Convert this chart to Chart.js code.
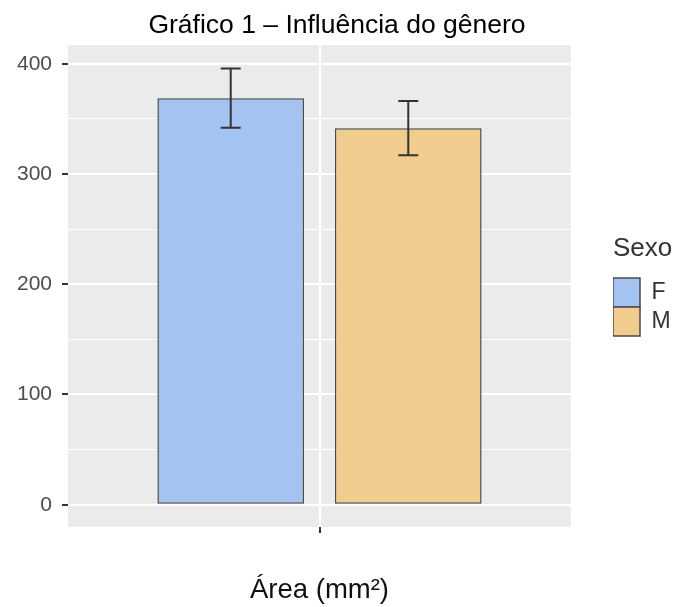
<!DOCTYPE html>
<html>
<head>
<meta charset="utf-8">
<script src="https://cdn.jsdelivr.net/npm/chart.js@4.4.1/dist/chart.umd.min.js"></script>
<style>
  html, body { margin: 0; padding: 0; background: #ffffff; }
  #wrap { width: 681px; height: 607px; position: relative; }
</style>
</head>
<body>
<div id="wrap"><canvas id="chart"></canvas></div>
<script>
// Mean area per sex with the half-width of its error bar
const groups = ['F', 'M'];
const areaMeans = [368.8, 341.6];
const areaErrors = [26.9, 24.7];
const xCategories = [''];
const yMajorTicks = [0, 100, 200, 300, 400];
const yMinorTicks = [50, 150, 250, 350];

const groupFills = ['#a5c3f1', '#f0cd8e'];
const titleText = 'Gráfico 1 – Influência do gênero';
const xTitle = 'Área (mm²)';
const legendTitle = 'Sexo';

Chart.defaults.font.family = '"Liberation Sans", Arial, Helvetica, sans-serif';

// grey panel behind the plotting area
const panelBackground = {
  id: 'panelBackground',
  beforeDraw(chart) {
    const { ctx, chartArea: a } = chart;
    ctx.save();
    ctx.fillStyle = '#ebebeb';
    ctx.fillRect(a.left, a.top, a.right - a.left, a.bottom - a.top);
    ctx.restore();
  }
};

// mean ± error whiskers drawn on top of each bar
const errorBars = {
  id: 'errorBars',
  afterDatasetsDraw(chart) {
    const { ctx } = chart;
    const yScale = chart.scales.y;
    ctx.save();
    ctx.strokeStyle = '#333333';
    ctx.lineWidth = 2;
    chart.data.datasets.forEach((ds, i) => {
      const meta = chart.getDatasetMeta(i);
      meta.data.forEach((bar, j) => {
        const m = ds.data[j];
        const e = ds.errors[j];
        const yLo = yScale.getPixelForValue(m - e);
        const yHi = yScale.getPixelForValue(m + e);
        const half = 10;
        ctx.beginPath();
        ctx.moveTo(bar.x, yLo); ctx.lineTo(bar.x, yHi);
        ctx.moveTo(bar.x - half, yLo); ctx.lineTo(bar.x + half, yLo);
        ctx.moveTo(bar.x - half, yHi); ctx.lineTo(bar.x + half, yHi);
        ctx.stroke();
      });
    });
    ctx.restore();
  }
};

const datasets = groups.map((g, i) => ({
  label: g,
  data: [areaMeans[i]],
  errors: [areaErrors[i]],
  backgroundColor: groupFills[i],
  borderColor: '#4a4a4a',
  borderWidth: 1.5,
  borderSkipped: false,
  barPercentage: 0.826,
  categoryPercentage: 0.706
}));

new Chart(document.getElementById('chart'), {
  type: 'bar',
  data: { labels: xCategories, datasets },
  plugins: [panelBackground, errorBars],
  options: {
    responsive: true,
    maintainAspectRatio: false,
    devicePixelRatio: 1,
    animation: false,
    events: [],
    layout: { padding: { left: 0, right: 7, top: 0, bottom: 0 } },
    plugins: {
      title: {
        display: true,
        text: titleText,
        color: '#000000',
        font: { size: 26.5, weight: 'normal' },
        padding: { top: 9.8, bottom: 3.4 }
      },
      legend: {
        position: 'right',
        fullSize: false,
        align: 'center',
        maxWidth: 61,
        title: {
          display: true,
          text: legendTitle,
          position: 'start',
          color: '#333333',
          font: { size: 26 },
          padding: { top: 0, bottom: 10.8 }
        },
        labels: {
          boxWidth: 27,
          boxHeight: 29,
          padding: 0,
          color: '#333333',
          font: { size: 23 }
        }
      },
      tooltip: { enabled: false }
    },
    scales: {
      x: {
        type: 'category',
        offset: true,
        grid: {
          offset: false,
          color: '#ffffff',
          lineWidth: 2,
          drawTicks: true,
          tickColor: '#333333',
          tickWidth: 2,
          tickLength: 6
        },
        border: { display: false },
        ticks: { display: true, font: { size: 20 } },
        title: {
          display: true,
          text: xTitle,
          color: '#111111',
          font: { size: 27.5 },
          padding: { top: 0, bottom: 0 }
        },
        afterFit(axis) { axis.height = 80; }
      },
      y: {
        type: 'linear',
        min: -20.2,
        max: 417,
        afterBuildTicks(axis) {
          axis.ticks = [...yMajorTicks, ...yMinorTicks]
            .sort((a, b) => a - b)
            .map(v => ({ value: v }));
        },
        grid: {
          color: '#ffffff',
          lineWidth: ctx => (yMajorTicks.includes(ctx.tick.value) ? 2 : 1.1),
          drawTicks: true,
          tickLength: 6,
          tickWidth: 2,
          tickColor: ctx => (yMajorTicks.includes(ctx.tick.value) ? '#333333' : 'rgba(0,0,0,0)')
        },
        border: { display: false },
        ticks: {
          autoSkip: false,
          padding: 10,
          color: '#4d4d4d',
          font: { size: 21 },
          callback: v => (yMajorTicks.includes(v) ? String(v) : '')
        },
        afterFit(axis) { axis.width = 68; }
      },
      gap: {
        type: 'linear',
        position: 'right',
        display: true,
        grid: { display: false },
        ticks: { display: false },
        border: { display: false },
        afterFit(axis) { axis.width = 42; }
      }
    }
  }
});
</script>
</body>
</html>
